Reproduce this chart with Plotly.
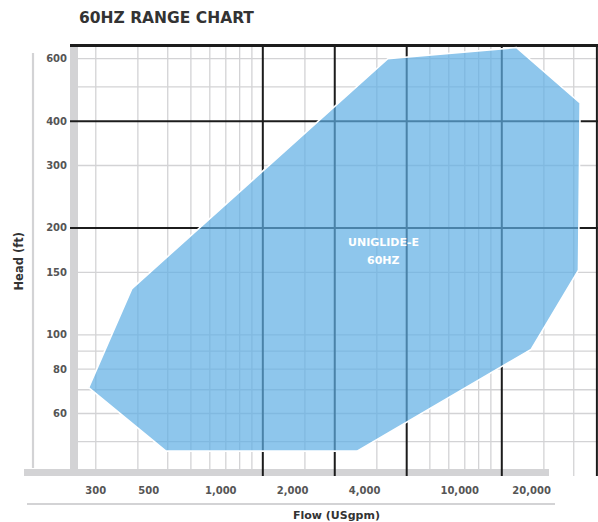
import math
import plotly.graph_objects as go

# UNIGLIDE-E 60 Hz operating range polygon (flow in USgpm, head in ft)
FLOW = [280, 425, 5000, 17300, 31900, 31400, 19900, 3720, 590]
HEAD = [71, 135, 600, 645, 450, 152, 91, 47, 47]

X_TICKS = [300, 500, 1000, 2000, 4000, 10000, 20000]
X_TICK_TEXT = ["300", "500", "1,000", "2,000", "4,000", "10,000", "20,000"]
Y_TICKS = [60, 80, 100, 150, 200, 300, 400, 600]
Y_TICK_TEXT = ["60", "80", "100", "150", "200", "300", "400", "600"]

# chart-paper grid (axis values)
X_GRID_MINOR = [300, 450, 600, 750, 900, 1050, 1200, 1350, 2250, 4500,
                7500, 9000, 10500, 12000, 13500, 22500, 30000]
X_GRID_MAJOR = [1500, 3000, 6000, 15000, 37500]
Y_GRID_MINOR = [50, 60, 70, 80, 90, 100, 150, 300, 500, 600]
Y_GRID_MAJOR = [200, 400]

X_RANGE = [234, 37900]
Y_RANGE = [40, 660]

LABEL_FLOW = 4820
LABEL_HEAD = 172

W, H = 598, 522
L, R, T, B = 70, 0, 44, 46
PW, PH = W - L - R, H - T - B


def px(x):
    return (x - L) / PW


def py(y):
    return (H - B - y) / PH


GRAY = "#d3d3d5"
BLACK = "#1c1c1c"
FONT = "DejaVu Sans"

fig = go.Figure()
fig.add_trace(go.Scatter(
    x=FLOW + FLOW[:1], y=HEAD + HEAD[:1],
    mode="lines", fill="toself",
    fillcolor="rgba(94,174,228,0.70)",
    line=dict(color="white", width=1.6),
    hoverinfo="skip", showlegend=False,
))

shapes = []
for v in X_GRID_MINOR:
    shapes.append(dict(type="line", xref="x", yref="paper", x0=v, x1=v, y0=0, y1=1,
                       line=dict(color=GRAY, width=1.3), layer="below"))
for v in Y_GRID_MINOR:
    shapes.append(dict(type="line", xref="paper", yref="y", x0=0, x1=1, y0=v, y1=v,
                       line=dict(color=GRAY, width=1.3), layer="below"))
# left and bottom bars
shapes.append(dict(type="rect", xref="paper", yref="paper", x0=px(70), x1=px(78),
                   y0=py(476), y1=py(45), fillcolor=GRAY, line=dict(width=0), layer="below"))
shapes.append(dict(type="rect", xref="paper", yref="paper", x0=px(24), x1=px(549),
                   y0=py(476), y1=py(469), fillcolor=GRAY, line=dict(width=0), layer="below"))
for v in X_GRID_MAJOR:
    shapes.append(dict(type="line", xref="x", yref="paper", x0=v, x1=v, y0=0, y1=1,
                       line=dict(color=BLACK, width=2), layer="below"))
for v in Y_GRID_MAJOR:
    shapes.append(dict(type="line", xref="paper", yref="y", x0=0, x1=1, y0=v, y1=v,
                       line=dict(color=BLACK, width=2), layer="below"))
# top frame line
shapes.append(dict(type="line", xref="paper", yref="paper", x0=0, x1=1, y0=py(45.5), y1=py(45.5),
                   line=dict(color=BLACK, width=3), layer="below"))
# axis-title rules
shapes.append(dict(type="line", xref="paper", yref="paper", x0=px(33), x1=px(33),
                   y0=py(468), y1=py(53), line=dict(color=GRAY, width=2.2)))
shapes.append(dict(type="line", xref="paper", yref="paper", x0=px(27), x1=px(555),
                   y0=py(504), y1=py(504), line=dict(color=GRAY, width=2.2)))

annotations = [
    dict(text="<b>60HZ RANGE CHART</b>", xref="paper", yref="paper", x=px(77), y=py(18),
         xanchor="left", yanchor="middle", showarrow=False,
         font=dict(family=FONT, size=15.5, color="#333333")),
    dict(text="<b>UNIGLIDE-E</b>", xref="x", yref="y",
         x=math.log10(LABEL_FLOW), y=math.log10(LABEL_HEAD), yshift=9,
         showarrow=False, font=dict(family=FONT, size=11, color="white")),
    dict(text="<b>60HZ</b>", xref="x", yref="y",
         x=math.log10(LABEL_FLOW), y=math.log10(LABEL_HEAD), yshift=-9,
         showarrow=False, font=dict(family=FONT, size=11, color="white")),
    dict(text="<b>Flow (USgpm)</b>", xref="paper", yref="paper", x=px(336.5), y=py(515.5),
         xanchor="center", yanchor="middle", showarrow=False,
         font=dict(family=FONT, size=11, color="#333333")),
    dict(text="<b>Head (ft)</b>", xref="paper", yref="paper", x=px(18.5), y=py(262),
         xanchor="center", yanchor="middle", showarrow=False, textangle=-90,
         font=dict(family=FONT, size=11.5, color="#333333")),
]

fig.update_layout(
    width=W, height=H,
    margin=dict(l=L, r=R, t=T, b=B, autoexpand=False),
    paper_bgcolor="white", plot_bgcolor="white",
    shapes=shapes, annotations=annotations,
    hovermode=False, showlegend=False,
    xaxis=dict(type="log", range=[math.log10(X_RANGE[0]), math.log10(X_RANGE[1])],
               tickvals=X_TICKS, ticktext=[f"<b>{t}</b>" for t in X_TICK_TEXT],
               showgrid=False, zeroline=False, showline=False, ticks="",
               ticklabelstandoff=7, fixedrange=True,
               tickfont=dict(family=FONT, size=10, color="#555555")),
    yaxis=dict(type="log", range=[math.log10(Y_RANGE[0]), math.log10(Y_RANGE[1])],
               tickvals=Y_TICKS, ticktext=[f"<b>{t}</b>" for t in Y_TICK_TEXT],
               showgrid=False, zeroline=False, showline=False, ticks="",
               ticklabelstandoff=2, fixedrange=True,
               tickfont=dict(family=FONT, size=10, color="#555555")),
)

fig.write_html(
    "out.html",
    config={"displayModeBar": False},
    post_script="document.body.style.margin='0';document.body.style.overflow='hidden';",
)
